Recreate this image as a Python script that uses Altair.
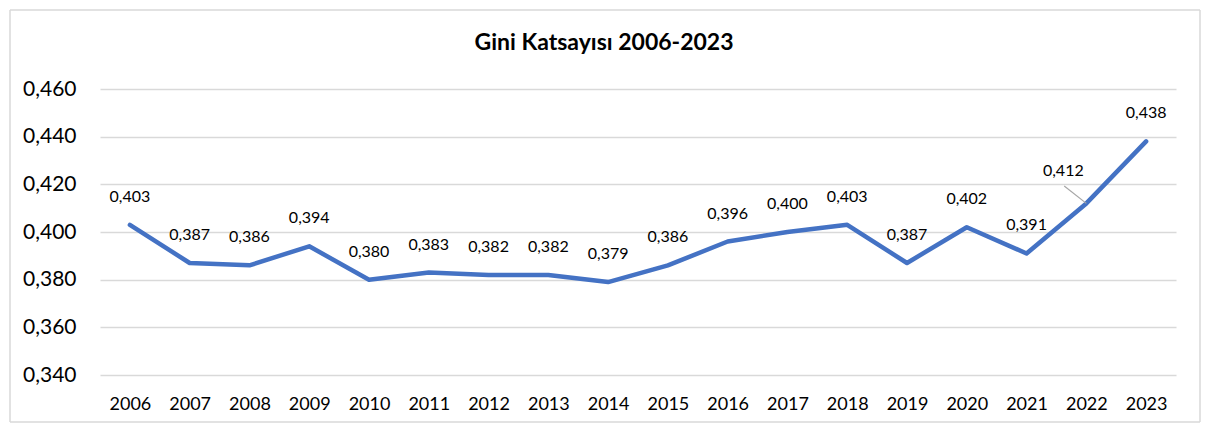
import altair as alt
import pandas as pd

years = list(range(2006, 2024))
gini = [0.403, 0.387, 0.386, 0.394, 0.380, 0.383, 0.382, 0.382, 0.379,
        0.386, 0.396, 0.400, 0.403, 0.387, 0.402, 0.391, 0.412, 0.438]
y_ticks = [0.34, 0.36, 0.38, 0.40, 0.42, 0.44, 0.46]
title_text = "Gini Katsayısı 2006-2023"
leader_x = [2021.63, 2022.0]
leader_y = [0.4193, 0.412]

FONT = "Lato"
W, H = 1076, 286

df = pd.DataFrame({"year": years, "gini": gini})
lead = pd.DataFrame({"year": [leader_x[0]], "gini": [leader_y[0]],
                     "x2": [leader_x[1]], "y2": [leader_y[1]]})

xs = alt.Scale(domain=[2005.5, 2023.5], nice=False, zero=False)
ys = alt.Scale(domain=[0.34, 0.46], nice=False, zero=False)

x_axis = alt.Axis(
    values=years, format="d", title=None, grid=False, domain=False, ticks=False,
    labelFont=FONT, labelFontSize=18, labelColor="#000000", labelPadding=20,
    labelFlush=False, labelOverlap=False)
y_axis = alt.Axis(
    values=y_ticks, title=None, domain=False, ticks=False,
    labelExpr="replace(format(datum.value, '.3f'), '.', ',')",
    labelFont=FONT, labelFontSize=21, labelColor="#000000", labelPadding=24,
    gridColor="#d9d9d9", gridWidth=1.3)

x_enc = alt.X("year:Q", scale=xs, axis=x_axis)
y_enc = alt.Y("gini:Q", scale=ys, axis=y_axis)

base = alt.Chart(df).transform_calculate(
    lbl="replace(format(datum.gini, '.3f'), '.', ',')")

line = base.mark_line(color="#4472C4", strokeWidth=4.5, strokeCap="round",
                      strokeJoin="round").encode(x=x_enc, y=y_enc)

labels = base.transform_filter("datum.year != 2022").mark_text(
    font=FONT, fontSize=16, color="#000000", dy=-28, baseline="middle"
).encode(x=x_enc, y=y_enc, text="lbl:N")

label22 = base.transform_filter("datum.year == 2022").mark_text(
    font=FONT, fontSize=16, color="#000000", dx=-23, dy=-32, baseline="middle"
).encode(x=x_enc, y=y_enc, text="lbl:N")

leader = alt.Chart(lead).mark_rule(color="#a6a6a6", strokeWidth=1.2).encode(
    x=x_enc, y=y_enc, x2="x2:Q", y2="y2:Q")

title = alt.Chart(pd.DataFrame({"t": [title_text]})).mark_text(
    font=FONT, fontSize=23, fontWeight="bold", color="#000000", baseline="middle"
).encode(x=alt.value(504), y=alt.value(-46), text="t:N")

frame = alt.Chart(pd.DataFrame({"a": [0]}))
fstyle = dict(color="#d9d9d9", strokeWidth=1.5)
b_top = frame.mark_rule(**fstyle).encode(x=alt.value(-90), x2=alt.value(W + 24), y=alt.value(-79))
b_bot = frame.mark_rule(**fstyle).encode(x=alt.value(-90), x2=alt.value(W + 24), y=alt.value(H + 47))
b_left = frame.mark_rule(**fstyle).encode(x=alt.value(-90), y=alt.value(-79), y2=alt.value(H + 47))
b_right = frame.mark_rule(**fstyle).encode(x=alt.value(W + 24), y=alt.value(-79), y2=alt.value(H + 47))

chart = alt.layer(b_top, b_bot, b_left, b_right, line, leader, labels, label22, title).properties(
    width=W, height=H, background="white",
    autosize=alt.AutoSizeParams(type="none"),
    padding={"left": 92, "top": 81, "right": 26, "bottom": 49},
).configure_view(stroke="transparent", strokeOpacity=0, strokeWidth=0)

chart.save("out.html", embed_options={"renderer": "svg", "actions": False})
